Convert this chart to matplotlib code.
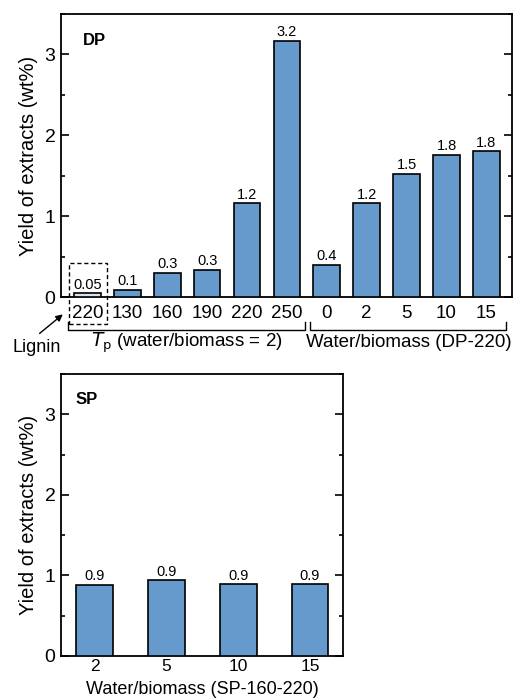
import matplotlib
matplotlib.use("Agg")
import matplotlib.pyplot as plt
from matplotlib.patches import Rectangle
import matplotlib.transforms as mtransforms

plt.rcParams['font.family'] = ['Liberation Sans', 'DejaVu Sans']

# Top panel (DP)
dp_labels = ["220", "130", "160", "190", "220", "250", "0", "2", "5", "10", "15"]
dp_values = [0.046, 0.087, 0.30, 0.34, 1.16, 3.17, 0.40, 1.16, 1.52, 1.76, 1.80]
dp_texts = ["0.05", "0.1", "0.3", "0.3", "1.2", "3.2", "0.4", "1.2", "1.5", "1.8", "1.8"]
dp_colors = ["#d8e2f0"] + ["#6699cc"] * 10

# Bottom panel (SP)
sp_labels = ["2", "5", "10", "15"]
sp_values = [0.88, 0.94, 0.89, 0.89]
sp_texts = ["0.9", "0.9", "0.9", "0.9"]

fig = plt.figure(figsize=(5.14, 7.0), dpi=100)
ax1 = fig.add_axes([61/514, 1-297/700, 451/514, 283/700])
ax2 = fig.add_axes([61/514, 1-656/700, 282/514, 282/700])

def style(ax):
    ax.set_ylim(0, 3.5)
    ax.set_yticks([0, 1, 2, 3])
    ax.set_yticks([0.5, 1.5, 2.5, 3.5], minor=True)
    ax.tick_params(axis='y', which='major', direction='in', length=5.5, width=1.2,
                   right=True, labelsize=14, pad=4)
    ax.tick_params(axis='y', which='minor', direction='in', length=3, width=1.2, right=True)
    ax.tick_params(axis='x', length=0, labelsize=13.5, pad=6)
    for s in ax.spines.values():
        s.set_linewidth(1.3)
    ax.set_ylabel("Yield of extracts (wt%)", fontsize=14.5, labelpad=5)

# DP
x1 = list(range(len(dp_values)))
ax1.bar(x1, dp_values, width=0.67, color=dp_colors, edgecolor='black', linewidth=1.2, zorder=3)
for xi, v, t in zip(x1, dp_values, dp_texts):
    ax1.text(xi, v + 0.02, t, ha='center', va='bottom', fontsize=10.5)
ax1.set_xlim(-0.66, 10.64)
ax1.set_xticks(x1)
ax1.set_xticklabels(dp_labels)
style(ax1)
ax1.text(0.049, 0.905, "DP", transform=ax1.transAxes, fontsize=12, fontweight='bold', va='center', ha='left')

# dashed box around lignin
ax1.add_patch(Rectangle((-0.46, -0.335), 0.95, 0.755, fill=False, linestyle=(0, (3, 2)),
                        linewidth=1.0, edgecolor='black', clip_on=False, zorder=5))

# brackets
trans = mtransforms.blended_transform_factory(ax1.transData, ax1.transAxes)
for (a, b) in [(-0.48, 5.45), (5.59, 10.49)]:
    ax1.plot([a, a, b, b], [-0.088, -0.117, -0.117, -0.088], transform=trans,
             color='black', lw=1.0, clip_on=False)
ax1.text(2.5, -0.16, r"$\mathit{T}_{\rm p}$ (water/biomass = 2)", transform=trans,
         ha='center', va='center', fontsize=13.5)
ax1.text(8.05, -0.16, "Water/biomass (DP-220)", transform=trans,
         ha='center', va='center', fontsize=13.5)
ax1.text(-1.27, -0.18, "Lignin", transform=trans, ha='center', va='center', fontsize=13)
ax1.annotate("", xy=(-0.56, -0.055), xycoords=trans, xytext=(-1.25, -0.135), textcoords=trans,
             arrowprops=dict(arrowstyle='-|>', color='black', lw=1.0, mutation_scale=10))

# SP
x2 = list(range(len(sp_values)))
ax2.bar(x2, sp_values, width=0.51, color="#6699cc", edgecolor='black', linewidth=1.2, zorder=3)
for xi, v, t in zip(x2, sp_values, sp_texts):
    ax2.text(xi, v + 0.02, t, ha='center', va='bottom', fontsize=10.5)
ax2.set_xlim(-0.47, 3.46)
ax2.set_xticks(x2)
ax2.set_xticklabels(sp_labels)
style(ax2)
ax2.tick_params(axis='x', pad=2, labelsize=12.5)
fig.text((61 + 141) / 514, 1 - 690 / 700, "Water/biomass (SP-160-220)", fontsize=13,
         ha='center', va='center')
ax2.text(0.05, 0.911, "SP", transform=ax2.transAxes, fontsize=12, fontweight='bold', va='center', ha='left')

fig.savefig("out.png", dpi=100)
